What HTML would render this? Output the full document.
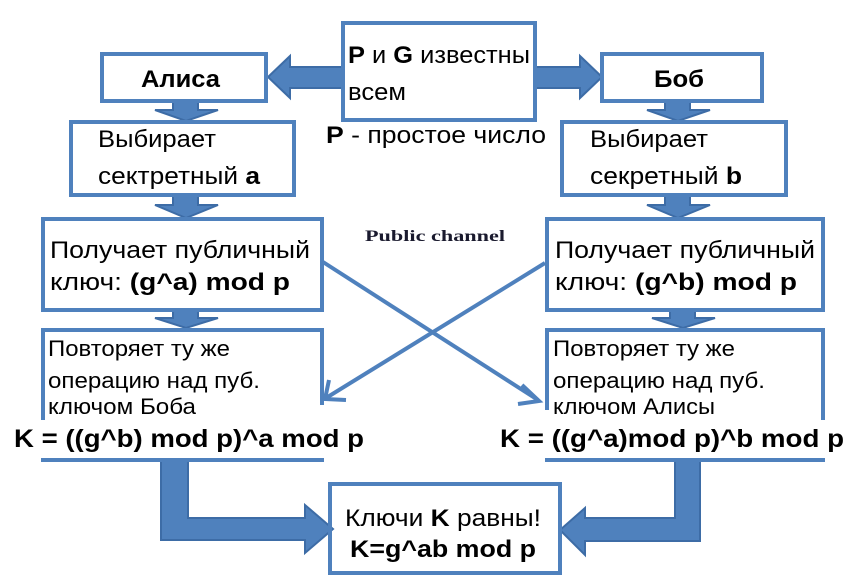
<!DOCTYPE html>
<html><head><meta charset="utf-8"><style>
html,body{margin:0;padding:0;background:#fff;}
svg{display:block;}
text{font-family:"Liberation Sans",sans-serif;fill:#000;}
.b{font-weight:bold;}
</style></head><body>
<svg width="850" height="586" viewBox="0 0 850 586" xmlns="http://www.w3.org/2000/svg">
<g fill="#4f81bd" stroke="#3d6ca6" stroke-width="2">
<polygon points="342,67 290,67 290,56 268,77 290,98 290,88 342,88"/>
<polygon points="535,67 580,67 580,56 602,77 580,98 580,88 535,88"/>
<polygon points="173,101 198,101 198,110 218,110 186,121 155,110 173,110"/>
<polygon points="173,195 198,195 198,205 218,205 186,218 155,205 173,205"/>
<polygon points="173,310 198,310 198,318 218,318 186,328 155,318 173,318"/>
<polygon points="665,101 690,101 690,110 710,110 678,121 647,110 665,110"/>
<polygon points="665,195 690,195 690,205 710,205 678,218 647,205 665,205"/>
<polygon points="670,310 695,310 695,318 715,318 683,328 652,318 670,318"/>
<polygon points="161,461 188,461 188,518 305,518 305,505 333,529 305,553 305,540 161,540"/>
<polygon points="700,461 675,461 675,518 585,518 585,508 560,530 585,555 585,541 700,541"/>
</g>
<g fill="none" stroke="#4f81bd" stroke-width="4">
<rect x="102" y="54" width="164" height="47"/>
<rect x="71" y="122" width="223" height="73"/>
<rect x="43" y="219" width="279" height="91"/>
<rect x="343" y="23" width="192" height="97"/>
<rect x="602" y="54" width="160" height="47"/>
<rect x="562" y="122" width="224" height="73"/>
<rect x="547" y="219" width="276" height="91"/>
<rect x="330" y="484" width="230" height="89"/>
<polyline points="43,420 43,330 322,330 322,405"/>
<line x1="41" y1="460" x2="324" y2="460"/>
<polyline points="547,410 547,330 823,330 823,420"/>
<line x1="545" y1="460" x2="825" y2="460"/>
<line x1="323" y1="262" x2="538" y2="400"/>
<line x1="545" y1="263" x2="326" y2="398"/>
<polyline points="522,385 539,401 518,404"/>
<polyline points="329,380 325,399 346,400"/>
</g>
<g lengthAdjust="spacingAndGlyphs">
<text x="365" y="241" style="font-family:'Liberation Serif',serif;font-weight:bold;font-size:16px;fill:#1a1a2e" textLength="140" lengthAdjust="spacingAndGlyphs">Public channel</text>
<text x="348" y="63" font-size="24" textLength="182" lengthAdjust="spacingAndGlyphs"><tspan class="b">P</tspan> и <tspan class="b">G</tspan> известны</text>
<text x="348" y="100" font-size="24" textLength="58" lengthAdjust="spacingAndGlyphs">всем</text>
<text x="326" y="143" font-size="24" textLength="220" lengthAdjust="spacingAndGlyphs"><tspan class="b">P</tspan> - простое число</text>
<text x="141" y="87" font-size="24" class="b" textLength="79" lengthAdjust="spacingAndGlyphs">Алиса</text>
<text x="654" y="87" font-size="24" class="b" textLength="50" lengthAdjust="spacingAndGlyphs">Боб</text>
<text x="98" y="147" font-size="24" textLength="118" lengthAdjust="spacingAndGlyphs">Выбирает</text>
<text x="98" y="184" font-size="24" textLength="162" lengthAdjust="spacingAndGlyphs">сектретный <tspan class="b">a</tspan></text>
<text x="590" y="147" font-size="24" textLength="118" lengthAdjust="spacingAndGlyphs">Выбирает</text>
<text x="590" y="184" font-size="24" textLength="152" lengthAdjust="spacingAndGlyphs">секретный <tspan class="b">b</tspan></text>
<text x="50" y="258" font-size="24" textLength="260" lengthAdjust="spacingAndGlyphs">Получает публичный</text>
<text x="50" y="290" font-size="24" textLength="240" lengthAdjust="spacingAndGlyphs">ключ:  <tspan class="b">(g^a) mod p</tspan></text>
<text x="555" y="258" font-size="24" textLength="260" lengthAdjust="spacingAndGlyphs">Получает публичный</text>
<text x="555" y="290" font-size="24" textLength="242" lengthAdjust="spacingAndGlyphs">ключ:  <tspan class="b">(g^b) mod p</tspan></text>
<text x="48" y="356" font-size="22" textLength="182" lengthAdjust="spacingAndGlyphs">Повторяет ту же</text>
<text x="48" y="388" font-size="22" textLength="212" lengthAdjust="spacingAndGlyphs">операцию над пуб.</text>
<text x="48" y="414" font-size="22" textLength="148" lengthAdjust="spacingAndGlyphs">ключом Боба</text>
<text x="553" y="356" font-size="22" textLength="182" lengthAdjust="spacingAndGlyphs">Повторяет ту же</text>
<text x="553" y="388" font-size="22" textLength="212" lengthAdjust="spacingAndGlyphs">операцию над пуб.</text>
<text x="553" y="414" font-size="22" textLength="162" lengthAdjust="spacingAndGlyphs">ключом Алисы</text>
<text x="14" y="447" font-size="25" class="b" textLength="350" lengthAdjust="spacingAndGlyphs">K = ((g^b) mod p)^a mod p</text>
<text x="500" y="447" font-size="25" class="b" textLength="344" lengthAdjust="spacingAndGlyphs">K = ((g^a)mod p)^b mod p</text>
<text x="345" y="526" font-size="24" textLength="196" lengthAdjust="spacingAndGlyphs">Ключи <tspan class="b">K</tspan> равны!</text>
<text x="350" y="557" font-size="24" class="b" textLength="186" lengthAdjust="spacingAndGlyphs">K=g^ab mod p</text>
</g>
</svg>
</body></html>
